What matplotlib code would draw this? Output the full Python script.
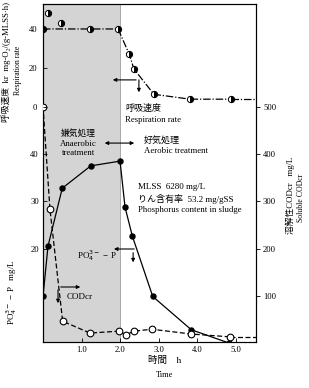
import matplotlib
matplotlib.use("Agg")
import matplotlib.pyplot as plt

plt.rcParams['font.family'] = ['Liberation Serif', 'Noto Sans CJK JP', 'DejaVu Serif']
plt.rcParams['font.size'] = 6.5

# Respiration rate kr, mg-O2/(g-MLSS.h)
resp_t = [0.0, 1.22, 1.95, 2.24, 2.36, 2.88, 3.82, 4.88]
resp_r = [40, 40, 40, 27, 19.5, 6.5, 4, 4]
# extra early points not on the line
resp_extra_t = [0.13, 0.47]
resp_extra_r = [48, 43]

# PO4-P, mg/L
po4_t = [0.0, 0.13, 0.5, 1.24, 2.0, 2.13, 2.32, 2.85, 3.85, 4.83]
po4_v = [10, 20.6, 32.8, 37.5, 38.5, 28.8, 22.7, 10, 3, 0.2]

# soluble CODcr, mg/L
cod_t = [0.0, 0.18, 0.51, 1.22, 1.97, 2.16, 2.35, 2.83, 3.85, 4.86]
cod_v = [500, 284, 48, 23, 27, 19, 27, 31, 21, 15]

W, H = 309, 388
fig = plt.figure(figsize=(W / 100, H / 100), dpi=100)
ax = fig.add_axes([43 / W, 1 - 342 / H, 213 / W, 338 / H])
ax.set_xlim(0, 5.53)
ax.set_ylim(0.42, 71.58)
ax.axvspan(0, 2.0, color='#d4d4d4', zorder=0, lw=0)
ax.axvline(2.0, color='#9a9a9a', lw=0.6, zorder=1)

ax.set_xticks([1, 2, 3, 4, 5])
ax.set_xticklabels(['1.0', '2.0', '3.0', '4.0', '5.0'])
ax.set_yticks([20, 30, 40])
ax.tick_params(direction='in', length=3, width=0.6, pad=3, labelsize=6.2)
for s in ax.spines.values():
    s.set_linewidth(0.8)

# PO4-P
ax.plot(po4_t, po4_v, '-', color='k', lw=0.9, marker='o', ms=3.6, zorder=4)

# COD on right axis
ax_cod = ax.twinx()
ax_cod.set_ylim(4.2, 715.8)
ax_cod.set_yticks([100, 200, 300, 400, 500])
ax_cod.tick_params(direction='out', length=3, width=0.6, pad=2, labelsize=6.2)
ax_cod.plot(cod_t, cod_v, linestyle=(0, (4, 2)), color='k', lw=0.9,
            marker='o', ms=4.8, mfc='white', mec='k', mew=0.8, zorder=4)
ax_cod.plot(cod_t[-1:] + [5.53], [cod_v[-1], cod_v[-1]], linestyle=(0, (4, 2)),
            color='k', lw=0.9)

# respiration rate on an overlaid axis (upper part)
ax_r = ax.twinx()
ax_r.set_ylim(-120.5, 52.8)
ax_r.yaxis.set_ticks_position('left')
ax_r.set_yticks([0, 20, 40])
ax_r.tick_params(direction='in', length=3, width=0.6, pad=4, labelsize=6.2)
for s in ax_r.spines.values():
    s.set_visible(False)
ax_r.plot(resp_t, resp_r, linestyle=(0, (6, 1.5, 1, 1.5)), color='k', lw=0.9,
          marker='o', ms=4.5, fillstyle='right', mfc='k', mfcalt='white',
          mec='k', mew=0.7, zorder=4)
ax_r.plot(resp_t[-1:] + [5.53], [resp_r[-1], resp_r[-1]],
          linestyle=(0, (6, 1.5, 1, 1.5)), color='k', lw=0.9)
ax_r.plot(resp_extra_t, resp_extra_r, 'o', ms=4.5, fillstyle='right', mfc='k',
          mfcalt='white', mec='k', mew=0.7, zorder=4)

# annotations (in PO4 data coords)
arr = dict(arrowstyle='-|>', color='k', lw=0.8, mutation_scale=5)
ax.annotate('', xy=(1.74, 55.6), xytext=(2.49, 55.6), arrowprops=arr)
ax.annotate('', xy=(2.49, 52.4), xytext=(2.49, 56.2), arrowprops=arr)
ax.text(2.13, 49.6, '呼吸速度', fontsize=6.5, va='center')
ax.text(2.13, 47.1, 'Respiration rate', fontsize=6.3, va='center')

ax.text(0.91, 44.4, '嫌気処理', fontsize=6.3, ha='center', va='center')
ax.text(0.91, 42.1, 'Anaerobic', fontsize=6.3, ha='center', va='center')
ax.text(0.91, 40.2, 'treatment', fontsize=6.3, ha='center', va='center')
ax.annotate('', xy=(1.53, 42.3), xytext=(2.44, 42.3),
            arrowprops=dict(arrowstyle='<|-|>', color='k', lw=0.8, mutation_scale=5))
ax.text(2.62, 42.9, '好気処理', fontsize=6.5, va='center')
ax.text(2.62, 40.6, 'Aerobic treatment', fontsize=6.3, va='center')

ax.text(2.47, 33.0, 'MLSS  6280 mg/L', fontsize=6.5, va='center')
ax.text(2.47, 30.5, 'りん含有率  53.2 mg/gSS', fontsize=6.5, va='center')
ax.text(2.47, 28.2, 'Phosphorus content in sludge', fontsize=6.3, va='center')

ax.text(0.88, 18.6, 'PO$_4^{3-}$ − P', fontsize=6.5, va='center',
        family='Liberation Serif')
ax.annotate('', xy=(1.77, 20.0), xytext=(2.44, 20.0), arrowprops=arr)
ax.annotate('', xy=(2.34, 16.6), xytext=(2.34, 19.8), arrowprops=arr)

ax.text(0.62, 9.9, 'CODcr', fontsize=6.5, va='center')
ax.annotate('', xy=(1.04, 12.0), xytext=(0.39, 12.0), arrowprops=arr)
ax.annotate('', xy=(0.39, 8.0), xytext=(0.39, 12.0), arrowprops=arr)

# axis titles
fig.text(6 / W, 1 - 62 / H, '呼吸速度  kr  mg-O₂/(g-MLSS·h)', rotation=90,
         ha='center', va='center', fontsize=6.3)
fig.text(18 / W, 1 - 70 / H, 'Respiration rate', rotation=90,
         ha='center', va='center', fontsize=5.6)
fig.text(12 / W, 1 - 292 / H, 'PO$_4^{3-}$ − P   mg/L', rotation=90,
         ha='center', va='center', fontsize=6.5, family='Liberation Serif')
fig.text(290 / W, 1 - 195 / H, '溶解性CODcr   mg/L', rotation=90,
         ha='center', va='center', fontsize=6.3)
fig.text(301 / W, 1 - 198 / H, 'Soluble CODcr', rotation=90,
         ha='center', va='center', fontsize=5.6)
fig.text(165 / W, 1 - 360 / H, '時間    h', ha='center', va='center', fontsize=6.8)
fig.text(165 / W, 1 - 375 / H, 'Time', ha='center', va='center', fontsize=6)

fig.savefig('out.png', dpi=100)
